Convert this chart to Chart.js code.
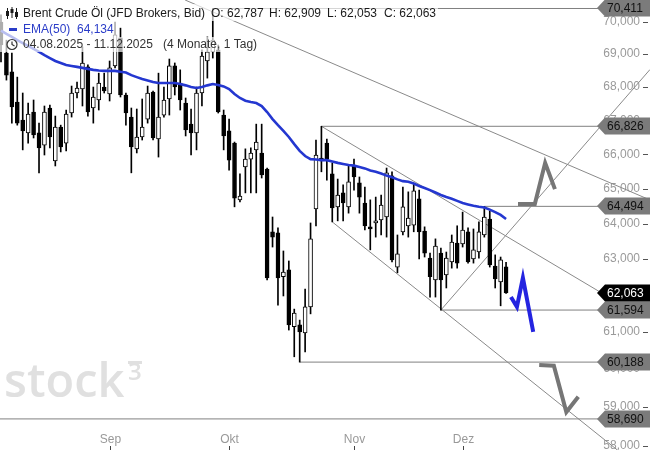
<!DOCTYPE html>
<html><head><meta charset="utf-8">
<script src="https://cdn.jsdelivr.net/npm/chart.js@4.4.1/dist/chart.umd.min.js"></script>
<style>html,body{margin:0;padding:0;background:#fff}</style>
</head><body>
<canvas id="c" width="650" height="450"></canvas>
<script>
const dates = [
'04.08.2025','05.08.2025','06.08.2025','07.08.2025','08.08.2025','11.08.2025','12.08.2025','13.08.2025','14.08.2025','15.08.2025',
'18.08.2025','19.08.2025','20.08.2025','21.08.2025','22.08.2025','25.08.2025','26.08.2025','27.08.2025','28.08.2025','29.08.2025',
'01.09.2025','02.09.2025','03.09.2025','04.09.2025','05.09.2025','08.09.2025','09.09.2025','10.09.2025','11.09.2025','12.09.2025',
'15.09.2025','16.09.2025','17.09.2025','18.09.2025','19.09.2025','22.09.2025','23.09.2025','24.09.2025','25.09.2025','26.09.2025',
'29.09.2025','30.09.2025','01.10.2025','02.10.2025','03.10.2025','06.10.2025','07.10.2025','08.10.2025','09.10.2025','10.10.2025',
'13.10.2025','14.10.2025','15.10.2025','16.10.2025','17.10.2025','20.10.2025','21.10.2025','22.10.2025','23.10.2025','24.10.2025',
'27.10.2025','28.10.2025','29.10.2025','30.10.2025','31.10.2025','03.11.2025','04.11.2025','05.11.2025','06.11.2025','07.11.2025',
'10.11.2025','11.11.2025','12.11.2025','13.11.2025','14.11.2025','17.11.2025','18.11.2025','19.11.2025','20.11.2025','21.11.2025',
'24.11.2025','25.11.2025','26.11.2025','27.11.2025','28.11.2025','01.12.2025','02.12.2025','03.12.2025','04.12.2025','05.12.2025',
'08.12.2025','09.12.2025','10.12.2025','11.12.2025'];

const open = [69.99,69.03,68.46,67.55,67.01,66.63,67.25,66.63,66.27,67.37,
65.81,66.80,66.33,67.22,67.82,67.94,68.61,67.37,67.61,68.00,
67.79,68.64,69.50,67.76,67.10,66.16,66.51,67.04,67.85,66.45,
67.16,67.64,68.64,68.12,67.52,66.89,66.63,67.82,68.79,69.07,
69.13,67.16,66.69,66.33,64.68,65.63,65.86,66.13,66.04,65.57,
63.77,63.74,62.51,62.70,61.14,61.19,60.97,61.68,64.42,65.89,
66.33,65.43,64.48,64.88,64.48,65.66,65.17,64.59,63.91,64.02,
64.11,64.19,65.37,62.78,63.77,63.94,63.96,64.71,63.79,63.03,
62.42,63.17,62.56,62.92,63.45,63.43,63.77,63.01,63.20,63.68,
64.13,62.81,62.37,62.787];

const high = [70.21,69.43,69.03,68.30,67.82,67.52,67.61,66.92,67.43,67.46,
67.13,66.86,67.31,68.03,68.15,69.22,68.67,68.00,68.42,68.42,
68.79,69.99,69.80,67.82,67.37,67.34,67.64,68.03,67.88,68.42,
68.00,68.85,68.73,68.52,67.67,67.34,68.00,69.13,69.53,70.411,
69.28,67.31,67.04,66.36,65.43,66.16,66.19,66.89,66.89,65.60,
64.19,63.88,63.23,62.95,61.62,61.32,62.17,64.02,66.42,66.826,
66.45,65.75,65.28,65.11,65.66,65.86,65.34,65.05,64.68,64.76,
64.82,65.60,65.49,63.68,65.05,64.91,65.14,64.96,63.91,63.17,
63.57,63.31,63.20,63.68,63.94,64.33,63.88,63.85,64.05,64.494,
64.36,63.12,63.06,62.909];

const low = [68.76,68.21,66.92,66.86,66.13,66.33,66.48,65.46,65.98,66.19,
65.66,66.07,66.10,67.10,67.67,67.43,67.13,66.92,67.31,67.82,
67.58,68.58,67.70,66.86,65.46,66.04,66.42,66.92,66.42,65.92,
67.10,67.16,67.76,67.31,66.54,65.98,66.13,67.43,68.27,68.88,
67.22,66.13,65.54,64.48,64.62,64.88,64.88,64.88,65.31,62.42,
63.34,61.73,61.98,61.05,60.33,60.188,60.46,61.49,63.94,65.49,
65.25,64.05,64.08,64.08,64.30,64.96,64.30,63.82,63.26,63.62,
63.68,63.62,62.92,62.62,63.68,63.62,63.77,63.01,63.06,61.95,
61.95,61.594,62.20,62.75,62.75,63.34,62.89,62.89,63.03,63.62,
62.78,62.20,61.71,62.053];

const close = [69.28,68.36,67.40,66.92,66.69,67.19,66.57,66.19,67.25,66.51,
66.80,66.22,67.19,67.82,67.97,68.73,67.25,67.70,68.12,67.88,
68.58,69.59,67.76,67.22,66.22,66.51,66.80,67.82,66.48,67.10,
67.61,68.64,68.00,67.61,66.72,66.63,67.82,68.94,69.07,69.43,
67.25,66.54,65.83,64.73,64.79,65.86,66.04,66.36,65.40,62.48,
63.62,62.48,62.64,61.19,61.51,61.00,61.68,63.57,65.98,65.81,
65.86,64.45,64.82,64.59,65.20,65.34,64.76,63.94,63.85,64.08,
64.53,65.46,62.98,63.15,64.48,64.16,64.94,63.77,63.17,62.51,
63.37,62.42,63.03,63.48,62.89,63.82,62.92,63.26,63.77,64.19,
62.84,62.45,62.98,62.063];

const ema50 = [69.72,69.62,69.53,69.43,69.34,69.25,69.16,69.07,68.97,68.88,
68.79,68.73,68.67,68.64,68.61,68.58,68.55,68.52,68.50,68.49,
68.49,68.49,68.46,68.44,68.36,68.30,68.24,68.20,68.15,68.12,
68.12,68.12,68.12,68.09,68.05,68.00,67.97,68.00,68.05,68.09,
68.06,68.02,67.94,67.79,67.67,67.59,67.55,67.52,67.43,67.25,
67.04,66.86,66.69,66.51,66.30,66.10,65.95,65.86,65.85,65.83,
65.83,65.79,65.75,65.72,65.69,65.67,65.63,65.59,65.53,65.49,
65.44,65.38,65.33,65.27,65.22,65.20,65.15,65.08,65.02,64.96,
64.89,64.82,64.76,64.71,64.65,64.59,64.55,64.51,64.48,64.46,
64.40,64.33,64.25,64.134];

const monthNames = {'09':'Sep','10':'Okt','11':'Nov','12':'Dez'};
const yTickValues = [58,59,60,61,62,63,64,65,66,67,68,69,70];

// horizontal levels: price, starting candle index
const levelPrices = [70.411, 66.826, 64.494, 61.594, 60.188, 58.690];
const levelStarts = [39, 59, 89, 81, 55, -0.2];
const levelEnd = 110.3;
const lastClose = 62.063;

// trend lines as [index, price] pairs
const trendUpperLong = [[33.9, 70.677], [119.5, 64.677]];
const trendChannelTop = [[59, 66.826], [110.3, 62.09]];
const trendChannelBottom = [[61, 64.05], [114, 57.83]];
const trendRising = [[81, 61.594], [119.5, 68.53]];

// drawn arrows [index, price]
const arrowUpGray = [[95.2, 64.56], [98.3, 64.56], [100.2, 65.75], [102.0, 64.99]];
const arrowBlue = [[93.9, 61.95], [95.0, 61.68], [96.1, 62.48], [98.0, 61.00]];
const arrowDownGray = [[99.1, 60.11], [101.8, 60.09], [104.1, 58.87], [106.3, 59.27]];

const fmt = v => v.toFixed(3).replace('.', ',');
const FONT = '"Liberation Sans", Arial, sans-serif';

const lineDs = (pts, color, width, order) => ({
  type: 'line', data: pts.map(p => ({x: p[0], y: p[1]})),
  borderColor: color, borderWidth: width, pointRadius: 0, tension: 0,
  clip: false, order: order, borderJoinStyle: 'miter', borderCapStyle: 'butt'
});

const datasets = [];
levelPrices.forEach((p, k) => datasets.push(lineDs([[levelStarts[k], p], [levelEnd, p]], '#808080', 1, 10)));
[trendUpperLong, trendChannelTop, trendChannelBottom, trendRising].forEach(t => datasets.push(lineDs(t, '#8a8a8a', 1, 10)));

datasets.push({
  type: 'bar', data: dates.map((d, i) => ({x: i, y: [low[i], high[i]]})),
  backgroundColor: '#000', barThickness: 1, grouped: false, order: 6
});
datasets.push({
  type: 'bar', data: dates.map((d, i) => ({x: i, y: [open[i], close[i]]})),
  backgroundColor: c => (close[c.dataIndex] >= open[c.dataIndex] ? '#fff' : '#000'),
  borderColor: '#000', borderWidth: 1, borderSkipped: false, barThickness: 4, grouped: false, order: 5
});
datasets.push(lineDs(ema50.map((v, i) => [i, v]), '#2437d0', 2.6, 4));
datasets.push(lineDs(arrowUpGray, '#767676', 4, 1));
datasets.push(lineDs(arrowDownGray, '#767676', 4, 1));
datasets.push(lineDs(arrowBlue, '#2424e0', 4, 1));

const watermark = {
  id: 'watermark',
  beforeDatasetsDraw(chart) {
    const ctx = chart.ctx; ctx.save();
    ctx.fillStyle = '#e0e0e0';
    ctx.font = '600 47px "Open Sans", sans-serif';
    ctx.textBaseline = 'alphabetic';
    ctx.fillText('stock', 4, 397);
    ctx.font = '600 24px "Open Sans", sans-serif';
    ctx.fillText('3', 128, 380);
    ctx.fillRect(128, 361, 14, 3);
    ctx.restore();
  }
};

const header = {
  id: 'header',
  afterDatasetsDraw(chart) {
    const ctx = chart.ctx; ctx.save();
    ctx.fillStyle = 'rgba(255,255,255,0.68)';
    ctx.fillRect(0, 4, 438, 17);
    ctx.fillRect(0, 21, 118, 16);
    ctx.fillRect(0, 37, 258, 15);
    ctx.font = '12px ' + FONT;
    ctx.textBaseline = 'middle';
    ctx.fillStyle = '#1a1a1a';
    ctx.fillText('Brent Crude Öl (JFD Brokers, Bid)', 23, 13.5);
    ctx.fillText('O: ' + fmt(open[open.length - 1]), 211, 13.5);
    ctx.fillText('H: ' + fmt(high[high.length - 1]), 269, 13.5);
    ctx.fillText('L: ' + fmt(low[low.length - 1]), 327, 13.5);
    ctx.fillText('C: ' + fmt(close[close.length - 1]), 384, 13.5);
    // candle icon
    ctx.strokeStyle = '#1a1a1a'; ctx.lineWidth = 1;
    [[7, 8, 19, 11, 16], [11.5, 7, 18, 9, 13], [16, 8, 19, 12, 17]].forEach(a => {
      ctx.beginPath(); ctx.moveTo(a[0] + 0.5, a[1]); ctx.lineTo(a[0] + 0.5, a[2]); ctx.stroke();
      ctx.fillRect(a[0] - 1, a[3], 3, a[4] - a[3]);
    });
    ctx.fillStyle = '#2a3cc8';
    ctx.fillRect(9, 28, 8, 3);
    ctx.fillText('EMA(50)', 23, 29.5);
    ctx.fillText(fmt(ema50[ema50.length - 1]), 77, 29.5);
    ctx.fillStyle = '#333';
    ctx.fillText(dates[0] + ' - ' + dates[dates.length - 1], 23, 44.5);
    ctx.fillText('(4 Monate, 1 Tag)', 163, 44.5);
    ctx.strokeStyle = '#333'; ctx.lineWidth = 1.2;
    ctx.beginPath(); ctx.arc(12, 44.5, 5, 0, Math.PI * 2); ctx.stroke();
    ctx.beginPath(); ctx.moveTo(12, 41.5); ctx.lineTo(12, 44.5); ctx.lineTo(14.5, 46); ctx.stroke();
    ctx.restore();
  }
};

const overlay = {
  id: 'overlay',
  afterDraw(chart) {
    const ctx = chart.ctx, xs = chart.scales.x, ys = chart.scales.y;
    ctx.save();
    // y tick dashes
    ctx.strokeStyle = '#555'; ctx.lineWidth = 1;
    yTickValues.forEach(v => {
      const y = Math.round(ys.getPixelForValue(v)) + 0.5;
      ctx.beginPath(); ctx.moveTo(643, y); ctx.lineTo(648, y); ctx.stroke();
    });
    // month labels
    ctx.font = '12px ' + FONT; ctx.textAlign = 'center'; ctx.textBaseline = 'middle';
    let prev = dates[0].slice(3, 5);
    dates.forEach((d, i) => {
      const m = d.slice(3, 5);
      if (m !== prev) {
        const x = Math.round(xs.getPixelForValue(i)) + 0.5;
        ctx.fillStyle = '#999'; ctx.fillText(monthNames[m], x, 440);
        ctx.strokeStyle = '#444'; ctx.lineWidth = 1;
        ctx.beginPath(); ctx.moveTo(x, 446); ctx.lineTo(x, 450); ctx.stroke();
      }
      prev = m;
    });
    // price tags
    const tag = (price, fill, txt) => {
      const y = Math.round(ys.getPixelForValue(price));
      ctx.fillStyle = fill;
      ctx.beginPath();
      ctx.moveTo(597, y); ctx.lineTo(605, y - 8.5); ctx.lineTo(650, y - 8.5);
      ctx.lineTo(650, y + 8.5); ctx.lineTo(605, y + 8.5); ctx.closePath(); ctx.fill();
      ctx.fillStyle = txt; ctx.font = '12px ' + FONT; ctx.textAlign = 'left';
      ctx.fillText(fmt(price), 607, y + 0.5);
    };
    levelPrices.forEach(p => tag(p, '#7b7b7b', '#111'));
    tag(lastClose, '#000', '#fff');
    ctx.restore();
  }
};

new Chart(document.getElementById('c'), {
  type: 'bar',
  data: { datasets },
  options: {
    responsive: false, animation: false, devicePixelRatio: 1,
    layout: { padding: 0 },
    plugins: { legend: { display: false }, tooltip: { enabled: false } },
    scales: {
      x: { type: 'linear', display: false, offset: false, min: -0.184, max: 118.4 },
      y: {
        type: 'logarithmic', position: 'right', min: 57.886, max: 70.677,
        afterBuildTicks: s => { s.ticks = yTickValues.map(v => ({ value: v })); },
        afterFit: s => { s.width = 6; s.paddingTop = 0; s.paddingBottom = 0; },
        ticks: { mirror: true, padding: -4, color: '#9a9a9a', font: { size: 12, family: FONT }, callback: v => fmt(v), autoSkip: false },
        grid: { drawOnChartArea: false, drawTicks: false, tickLength: 6, color: '#444' },
        border: { display: false }
      }
    }
  },
  plugins: [watermark, header, overlay]
});
</script>
</body></html>
